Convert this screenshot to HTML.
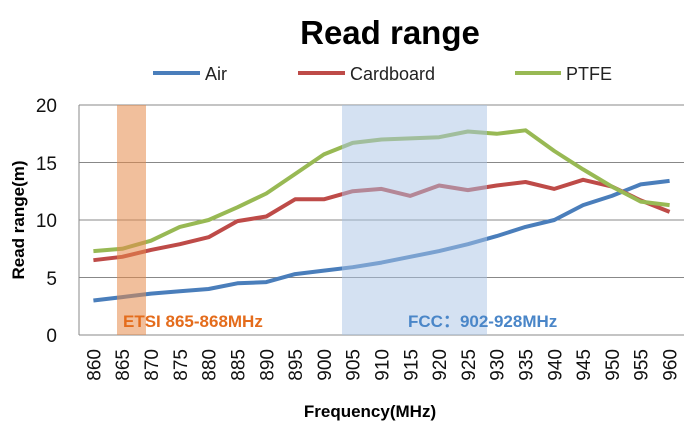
<!DOCTYPE html>
<html><head><style>body{margin:0;background:#fff}svg{display:block}</style></head><body>
<svg width="690" height="426" xmlns="http://www.w3.org/2000/svg" font-family="Liberation Sans, sans-serif">
<text x="390" y="44" text-anchor="middle" font-size="33" font-weight="bold">Read range</text>
<g font-size="18" fill="#222">
<line x1="153" y1="73" x2="200" y2="73" stroke="#4a7ebb" stroke-width="4"/><text x="205" y="80">Air</text>
<line x1="298" y1="73" x2="345" y2="73" stroke="#be4b48" stroke-width="4"/><text x="350" y="80">Cardboard</text>
<line x1="515" y1="73" x2="561" y2="73" stroke="#98b954" stroke-width="4"/><text x="566" y="80">PTFE</text>
</g>
<g stroke="#888" stroke-width="1">
<line x1="79" y1="105" x2="684" y2="105"/><line x1="79" y1="162.5" x2="684" y2="162.5"/>
<line x1="79" y1="220" x2="684" y2="220"/><line x1="79" y1="277.5" x2="684" y2="277.5"/>
<line x1="79" y1="335" x2="684" y2="335"/><line x1="79" y1="105" x2="79" y2="335"/>
</g>
<g font-size="19" text-anchor="end" fill="#111">
<text x="57" y="112">20</text><text x="57" y="170">15</text><text x="57" y="227">10</text><text x="57" y="285">5</text><text x="57" y="342">0</text>
</g>
<g fill="none" stroke-width="4" stroke-linejoin="round">
<polyline stroke="#4a7ebb" points="93.4,300.5 122.2,297.1 151.0,293.6 179.8,291.3 208.6,289.0 237.4,283.3 266.3,282.1 295.1,274.1 323.9,270.6 352.7,267.2 381.5,262.6 410.3,256.8 439.1,251.1 467.9,244.2 496.7,236.1 525.5,226.9 554.3,220.0 583.1,205.1 611.9,195.9 640.7,184.4 669.6,180.9"/>
<polyline stroke="#be4b48" points="93.4,260.2 122.2,256.8 151.0,249.9 179.8,244.2 208.6,237.2 237.4,221.1 266.3,216.5 295.1,199.3 323.9,199.3 352.7,191.2 381.5,188.9 410.3,195.9 439.1,185.5 467.9,190.1 496.7,185.5 525.5,182.0 554.3,188.9 583.1,179.8 611.9,186.6 640.7,200.4 669.6,211.9"/>
<polyline stroke="#98b954" points="93.4,251.1 122.2,248.8 151.0,240.7 179.8,226.9 208.6,220.0 237.4,207.3 266.3,193.5 295.1,174.0 323.9,154.4 352.7,142.9 381.5,139.5 410.3,138.4 439.1,137.2 467.9,131.5 496.7,133.8 525.5,130.3 554.3,151.0 583.1,169.4 611.9,186.6 640.7,201.6 669.6,205.1"/>
</g>
<rect x="117" y="105" width="29" height="230" fill="#e58a4a" opacity="0.55"/>
<rect x="342" y="105" width="145" height="230" fill="#a9c3e6" opacity="0.5"/>
<text x="123" y="327" font-size="17" font-weight="bold" fill="#e46c1c">ETSI 865-868MHz</text>
<text x="408" y="327" font-size="17" font-weight="bold" fill="#4a86c8">FCC：902-928MHz</text>
<g font-size="19" fill="#111" text-anchor="end">
<text transform="translate(100.4,349) rotate(-90)">860</text>
<text transform="translate(129.2,349) rotate(-90)">865</text>
<text transform="translate(158.0,349) rotate(-90)">870</text>
<text transform="translate(186.8,349) rotate(-90)">875</text>
<text transform="translate(215.6,349) rotate(-90)">880</text>
<text transform="translate(244.4,349) rotate(-90)">885</text>
<text transform="translate(273.3,349) rotate(-90)">890</text>
<text transform="translate(302.1,349) rotate(-90)">895</text>
<text transform="translate(330.9,349) rotate(-90)">900</text>
<text transform="translate(359.7,349) rotate(-90)">905</text>
<text transform="translate(388.5,349) rotate(-90)">910</text>
<text transform="translate(417.3,349) rotate(-90)">915</text>
<text transform="translate(446.1,349) rotate(-90)">920</text>
<text transform="translate(474.9,349) rotate(-90)">925</text>
<text transform="translate(503.7,349) rotate(-90)">930</text>
<text transform="translate(532.5,349) rotate(-90)">935</text>
<text transform="translate(561.3,349) rotate(-90)">940</text>
<text transform="translate(590.1,349) rotate(-90)">945</text>
<text transform="translate(618.9,349) rotate(-90)">950</text>
<text transform="translate(647.7,349) rotate(-90)">955</text>
<text transform="translate(676.6,349) rotate(-90)">960</text>
</g>
<text x="370" y="417" text-anchor="middle" font-size="17" font-weight="bold">Frequency(MHz)</text>
<text transform="translate(24,220) rotate(-90)" text-anchor="middle" font-size="17" font-weight="bold">Read range(m)</text>
</svg>
</body></html>
